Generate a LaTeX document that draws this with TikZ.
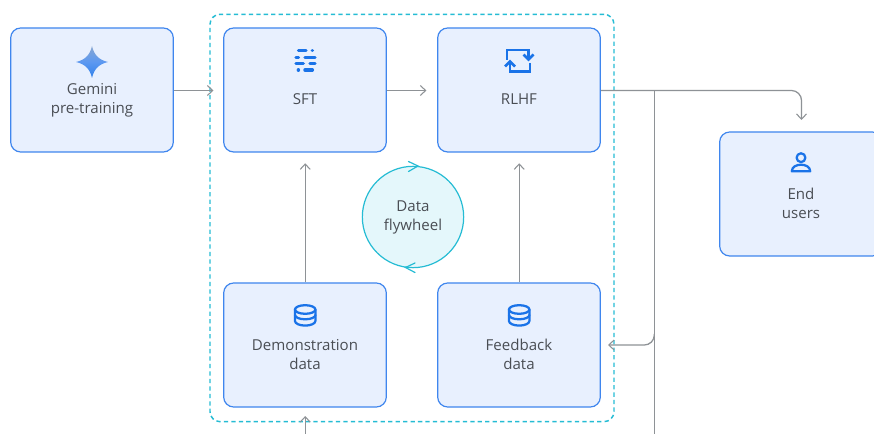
\documentclass[tikz,border=0pt]{standalone}
\usepackage{fontspec}
\setmainfont{Open Sans}
\usetikzlibrary{arrows.meta}
\definecolor{boxfill}{HTML}{E8F0FE}
\definecolor{boxline}{HTML}{3F86EE}
\definecolor{iconblue}{HTML}{1A73E8}
\definecolor{txt}{HTML}{4A4E54}
\definecolor{conn}{HTML}{8E9296}
\definecolor{teal}{HTML}{25BCD4}
\definecolor{tealfill}{HTML}{E4F7FB}
\tikzset{
  x=0.75pt,y=-0.75pt,
  stagebox/.style={draw=boxline,fill=boxfill,line width=0.9pt,rounded corners=7.5pt,minimum width=122pt,minimum height=93pt,inner sep=0pt},
  lbl/.style={text=txt,font=\fontsize{11.3}{14}\selectfont,align=center,inner sep=0pt},
  link/.style={draw=conn,line width=0.95pt,-{Straight Barb[length=4pt,width=7.5pt,line width=0.8pt]},rounded corners=7.5pt},
  plain/.style={draw=conn,line width=0.95pt},
  icon/.style={draw=iconblue,line width=1.7pt,line cap=round,line join=round},
  sharpicon/.style={draw=iconblue,line width=2.1pt,line cap=butt,line join=miter},
}
\begin{document}
\begin{tikzpicture}
\clip (0,0) rectangle (874,434);
\fill[white] (0,0) rectangle (874,434);
% dashed frame
\node[draw=teal,line width=1.1pt,dashed,dash pattern=on 3.2pt off 2.4pt,rounded corners=7.5pt,minimum width=303pt,minimum height=305.5pt,inner sep=0pt] (frame) at (412,218) {};
% boxes
\node[stagebox] (gem) at (92,90) {};
\node[stagebox] (sft) at (305,90) {};
\node[stagebox] (rlhf) at (519,90) {};
\node[stagebox] (dem) at (305,345) {};
\node[stagebox] (fb) at (519,345) {};
\node[stagebox] (end) at (801,194) {};
% wheel
\node[circle,draw=teal,fill=tealfill,line width=0.9pt,minimum size=76pt,inner sep=0pt] (wheel) at (413,217) {};
\draw[teal,line width=0.9pt,line cap=round] (408.5,161.5) -- (418,166) -- (408.5,171.5);
\draw[teal,line width=0.9pt,line cap=round] (415,263) -- (405.5,267.5) -- (415,272.5);
% labels
\node[lbl] (t1) at (92,100.5) {Gemini\\pre-training};
\node[lbl] (t2) at (305,99) {SFT};
\node[lbl] (t3) at (519,99) {RLHF};
\node[lbl] (t4) at (413,217.5) {Data\\flywheel};
\node[lbl] (t5) at (305,354.5) {Demonstration\\data};
\node[lbl] (t6) at (519,354.5) {Feedback\\data};
\node[lbl] (t7) at (801,203.5) {End\\users};
% connectors
\coordinate (bot1) at (654.3,434);
\coordinate (bot2) at (305.2,434);
\coordinate (j) at (654.3,90.5);
\coordinate (endtip) at (801.5,120);
\draw[link] (gem.east |- 0,90.5) -- (213.5,90.5);
\draw[link,shorten >=8pt] (sft.east |- 0,90.5) -- (rlhf.west |- 0,90.5);
\draw[link,shorten >=8pt] ([xshift=.15pt]dem.north) -- ([xshift=.15pt]sft.south);
\draw[link,shorten >=8pt] ([xshift=.15pt]fb.north) -- ([xshift=.15pt]rlhf.south);
\draw[link] (rlhf.east |- 0,90.5) -- (801.5,90.5) -- (endtip);
\draw[plain] (j) -- (bot1);
\draw[link] (654.3,334) |- (608,345);
\draw[link] (bot2) -- (305.2,416);
% gemini star
\shade[top color=boxfill!55!iconblue!70!gray,bottom color=iconblue!90!white,middle color=boxline!85!white]
 (92,46) .. controls (94,55) and (99,60) .. (108,62) .. controls (99,64) and (94,69) .. (92,78)
 .. controls (90,69) and (85,64) .. (76,62) .. controls (85,60) and (90,55) .. (92,46) -- cycle;
% sliders icon
\begin{scope}[iconblue,line width=2.6pt,line cap=round]
\draw (298.5,50.7) -- (306,50.7); \draw (312.3,50.7) -- (312.4,50.7);
\draw (296,57.3) -- (298.5,57.3); \draw (305,57.3) -- (315,57.3);
\draw (296,63.7) -- (303.3,63.7); \draw (310,63.7) -- (315,63.7);
\draw (298.3,70) -- (298.4,70); \draw (305,70) -- (312.3,70);
\end{scope}
% repeat icon
\draw[sharpicon] (507,60) -- (507,50) -- (528.5,50) -- (528.5,58);
\draw[sharpicon] (530,63) -- (530,71.5) -- (510,71.5) -- (510,63);
\draw[sharpicon] (523.5,54.5) -- (528.5,59.5) -- (533.5,54.5);
\draw[sharpicon] (505,66.5) -- (510,61.5) -- (515,66.5);
% person icon
\draw[icon] (801,157.7) circle[radius=3.3pt];
\draw[icon] (791.8,171.3) -- (810.2,171.3) .. controls (810.2,166.5) and (805,164.7) .. (801,164.7) .. controls (797,164.7) and (791.8,166.5) .. (791.8,171.3) -- cycle;
% database icons
\foreach \cx in {305.2,519.2}{
 \draw[icon] (\cx,309.5) ellipse[x radius=10.2,y radius=4.3];
 \draw[icon] (\cx-10.2,309.5) -- (\cx-10.2,321) arc[start angle=180,end angle=0,x radius=10.2,y radius=4.6] -- (\cx+10.2,309.5);
 \draw[icon] (\cx-10.2,315) arc[start angle=180,end angle=0,x radius=10.2,y radius=4.3];
}
\end{tikzpicture}
\end{document}
